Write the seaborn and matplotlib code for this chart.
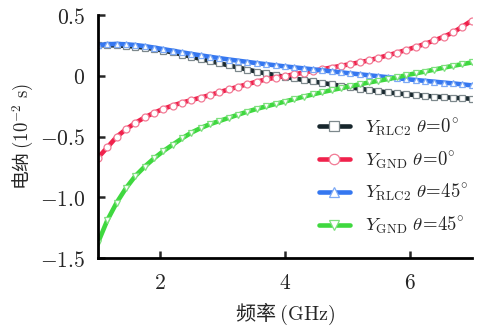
import numpy as np
import pandas as pd
import matplotlib
matplotlib.use("Agg")
import matplotlib.pyplot as plt
import seaborn as sns

freq = [round(1 + 0.15 * k, 2) for k in range(41)]

y_rlc2_0 = [0.252, 0.252, 0.250, 0.246, 0.240, 0.232, 0.221, 0.208, 0.192, 0.175,
            0.157, 0.139, 0.121, 0.103, 0.085, 0.068, 0.051, 0.034, 0.019, 0.005,
            -0.009, -0.022, -0.035, -0.047, -0.059, -0.071, -0.083, -0.095, -0.106, -0.117,
            -0.127, -0.137, -0.145, -0.152, -0.159, -0.165, -0.171, -0.176, -0.181, -0.185,
            -0.189]
y_gnd_0 = [-0.675, -0.590, -0.503, -0.440, -0.388, -0.343, -0.305, -0.272, -0.245, -0.221,
           -0.200, -0.180, -0.158, -0.135, -0.112, -0.090, -0.069, -0.048, -0.030, -0.015,
           -0.002, 0.012, 0.026, 0.040, 0.054, 0.068, 0.082, 0.096, 0.111, 0.127,
           0.148, 0.168, 0.190, 0.213, 0.237, 0.263, 0.291, 0.322, 0.357, 0.405,
           0.455]
y_rlc2_45 = [0.252, 0.260, 0.262, 0.259, 0.253, 0.244, 0.232, 0.219, 0.206, 0.193,
             0.180, 0.168, 0.156, 0.145, 0.134, 0.124, 0.114, 0.104, 0.095, 0.086,
             0.077, 0.069, 0.061, 0.053, 0.045, 0.036, 0.028, 0.020, 0.012, 0.004,
             -0.004, -0.012, -0.020, -0.028, -0.035, -0.042, -0.049, -0.056, -0.063, -0.071,
             -0.079]
y_gnd_45 = [-1.375, -1.190, -1.045, -0.925, -0.825, -0.748, -0.680, -0.620, -0.567, -0.515,
            -0.468, -0.430, -0.398, -0.372, -0.346, -0.320, -0.295, -0.272, -0.252, -0.232,
            -0.212, -0.192, -0.172, -0.153, -0.135, -0.118, -0.102, -0.086, -0.070, -0.055,
            -0.041, -0.027, -0.013, 0.006, 0.020, 0.035, 0.051, 0.067, 0.082, 0.096,
            0.110]

labels = [r"$Y_{\mathrm{RLC2}}\ \theta\!=\!0^{\circ}$",
          r"$Y_{\mathrm{GND}}\ \theta\!=\!0^{\circ}$",
          r"$Y_{\mathrm{RLC2}}\ \theta\!=\!45^{\circ}$",
          r"$Y_{\mathrm{GND}}\ \theta\!=\!45^{\circ}$"]
series = [y_rlc2_0, y_gnd_0, y_rlc2_45, y_gnd_45]
colors = ["#17262c", "#f0224c", "#3577f0", "#3fd83f"]
edge_colors = ["#7d888c", "#f27a95", "#7eaaf5", "#7fe07f"]
markers = ["s", "o", "^", "v"]

xticks = [2, 4, 6]
yticks = [-1.5, -1.0, -0.5, 0, 0.5]
xticklabels = ["$2$", "$4$", "$6$"]
yticklabels = [r"$-1.5$", r"$-1.0$", r"$-0.5$", "$0$", "$0.5$"]

sns.set_style("ticks")
plt.rcParams["font.family"] = ["Noto Sans CJK SC", "DejaVu Sans"]
plt.rcParams["mathtext.fontset"] = "cm"

fig = plt.figure(figsize=(4.8, 3.27), dpi=100)
ax = fig.add_axes([0.204, 0.211, 0.779, 0.743])

for ys, lab, c, ec, m in zip(series, labels, colors, edge_colors, markers):
    df = pd.DataFrame({"f": freq, "v": ys})
    sns.lineplot(data=df, x="f", y="v", ax=ax, color=c, linewidth=3.3,
                 marker=m, markersize=5.0, markerfacecolor="white",
                 markeredgecolor=ec, markeredgewidth=0.9, label=lab)

ax.set_xlim(1, 7)
ax.set_ylim(-1.5, 0.5)
ax.set_xticks(xticks)
ax.set_xticklabels(xticklabels, fontsize=15.5)
ax.set_yticks(yticks)
ax.set_yticklabels(yticklabels, fontsize=15.5)
ax.tick_params(axis="both", direction="in", length=5, width=1.8)
ax.tick_params(axis="x", pad=10)
ax.tick_params(axis="y", pad=9)
for s in ["left", "bottom"]:
    ax.spines[s].set_linewidth(2.0)
    ax.spines[s].set_color("black")
for s in ["top", "right"]:
    ax.spines[s].set_visible(False)

ax.set_xlabel(r"频率 $(\mathrm{GHz})$", fontsize=14.5, labelpad=5)
ax.set_ylabel(r"电纳 $(10^{-2}\ \mathrm{s})$", fontsize=13.5, labelpad=3)

leg = ax.legend(loc="lower right", bbox_to_anchor=(1.035, 0.02), frameon=False,
                fontsize=13.5, handlelength=1.65, handletextpad=0.8, labelspacing=0.62,
                markerscale=1.5)

fig.savefig("out.png", dpi=100)
